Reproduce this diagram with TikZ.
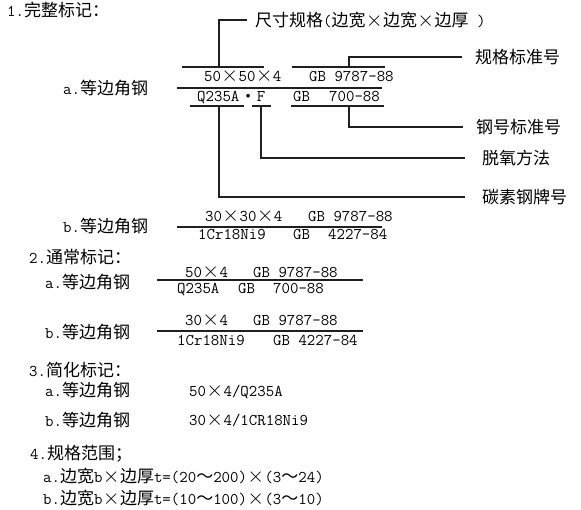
\documentclass[tikz,border=0pt]{standalone}
\usepackage{fontspec}
\usepackage{graphicx}
\newfontfamily\cjk{Noto Sans CJK SC}
\newcommand\Z[1]{{\cjk\fontsize{17}{18}\selectfont #1}}
\newcommand\T[1]{{\ttfamily\fontsize{16.4}{18}\selectfont #1}}
\newcommand\X{\makebox[17.5pt]{\fontsize{16}{16}\selectfont\scalebox{1.25}{$\times$}}}
\newcommand\D{\makebox[17.5pt]{\fontsize{9}{9}\selectfont\raisebox{3.5pt}{$\bullet$}}}
\begin{document}
\begin{tikzpicture}[x=1pt,y=-1pt,
  txt/.style={inner sep=0pt, anchor=base west},
  lbl/.style={inner sep=0pt, anchor=west},
  ln/.style={line width=1.35pt, draw=black!88}]
\useasboundingbox (0,0) rectangle (581,510);

% ---------- 1. complete marking
\node[txt] (h1) at (7,17) {\T{1.}\Z{完整标记：}};
\node[txt] (a1) at (63,95) {\T{a.}\Z{等边角钢}};
\node[txt] (s1) at (204,82) {\T{50}\X\T{50}\X\T{4}};
\node[txt] (g1) at (309,82) {\T{GB 9787-88}};
\node[txt] (m1) at (197,102) {\T{Q235A}\D\T{F}};
\node[txt] (gb1) at (293,102) {\T{GB}};
\node[txt] (n1) at (329,102) {\T{700-88}};

\coordinate (oL1) at (182,67); \coordinate (oL2) at (264,67);
\coordinate (oR1) at (292,67); \coordinate (oR2) at (385,67);
\coordinate (mA) at (177,88);  \coordinate (mB) at (382,88);
\coordinate (uL1) at (190,106); \coordinate (uL2) at (244,106);
\coordinate (uF1) at (252,106); \coordinate (uF2) at (271,106);
\coordinate (uR1) at (291,106); \coordinate (uR2) at (384,106);
\draw[ln] (oL1) -- (oL2);
\draw[ln] (oR1) -- (oR2);
\draw[ln] (mA) -- (mB);
\draw[ln] (uL1) -- (uL2);
\draw[ln] (uF1) -- (uF2);
\draw[ln] (uR1) -- (uR2);

\node[lbl] (L1) at (255,20) {\Z{尺寸规格}\T{(}\Z{边宽}\X\Z{边宽}\X\Z{边厚}\T{~)}};
\node[lbl] (L2) at (475,57) {\Z{规格标准号}};
\node[lbl] (L3) at (476,127) {\Z{钢号标准号}};
\node[lbl] (L4) at (482,158) {\Z{脱氧方法}};
\node[lbl] (L5) at (482,197) {\Z{碳素钢牌号}};

\coordinate (t1) at (219,67);
\coordinate (t2) at (349,67);
\coordinate (t3) at (349,106);
\coordinate (t4) at (261,106);
\coordinate (t5) at (219,106);
\draw[ln] (t1) |- ([xshift=-8pt]L1.west);
\draw[ln] (t2) |- ([xshift=-13pt]L2.west);
\draw[ln] (t3) |- ([xshift=-13pt]L3.west);
\draw[ln] (t4) |- ([xshift=-17pt]L4.west);
\draw[ln] (t5) |- ([xshift=-17pt]L5.west);

\node[txt] (b1) at (63,233) {\T{b.}\Z{等边角钢}};
\node[txt] (s2) at (205,222) {\T{30}\X\T{30}\X\T{4}};
\node[txt] (g2) at (308,222) {\T{GB 9787-88}};
\coordinate (bA) at (177,227); \coordinate (bB) at (382,227);
\draw[ln] (bA) -- (bB);
\node[txt] (m2) at (198,240) {\T{1Cr18Ni9}};
\node[txt] (gb2) at (293,240) {\T{GB}};
\node[txt] (n2) at (328,240) {\T{4227-84}};

% ---------- 2. usual marking
\node[txt] (h2) at (29,264) {\T{2.}\Z{通常标记：}};
\node[txt] (a2) at (45,289) {\T{a.}\Z{等边角钢}};
\node[txt] (s3) at (185,278) {\T{50}\X\T{4}};
\node[txt] (g3) at (253,278) {\T{GB 9787-88}};
\coordinate (cA) at (157,280); \coordinate (cB) at (363,280);
\draw[ln] (cA) -- (cB);
\node[txt] (m3) at (177,294) {\T{Q235A}};
\node[txt] (gb3) at (238,294) {\T{GB}};
\node[txt] (n3) at (273,294) {\T{700-88}};

\node[txt] (b2) at (45,339) {\T{b.}\Z{等边角钢}};
\node[txt] (s4) at (185,326) {\T{30}\X\T{4}};
\node[txt] (g4) at (253,326) {\T{GB 9787-88}};
\coordinate (dA) at (157,331); \coordinate (dB) at (363,331);
\draw[ln] (dA) -- (dB);
\node[txt] (m4) at (177,346) {\T{1Cr18Ni9}};
\node[txt] (g5) at (273,346) {\T{GB 4227-84}};

% ---------- 3. simplified marking
\node[txt] (h3) at (29,377) {\T{3.}\Z{简化标记：}};
\node[txt] (a3) at (45,397) {\T{a.}\Z{等边角钢}};
\node[txt] (s5) at (189,397) {\T{50}\X\T{4/Q235A}};
\node[txt] (b3) at (45,427) {\T{b.}\Z{等边角钢}};
\node[txt] (s6) at (189,425) {\T{30}\X\T{4/1CR18Ni9}};

% ---------- 4. range
\node[txt] (h4) at (30,459) {\T{4.}\Z{规格范围；}};
\node[txt] (r1) at (43,482) {\T{a.}\Z{边宽}\T{b}\X\Z{边厚}\T{t=(20}\Z{～}\T{200)}\X\T{(3}\Z{～}\T{24)}};
\node[txt] (r2) at (43,504) {\T{b.}\Z{边宽}\T{b}\X\Z{边厚}\T{t=(10}\Z{～}\T{100)}\X\T{(3}\Z{～}\T{10)}};
\end{tikzpicture}
\end{document}
